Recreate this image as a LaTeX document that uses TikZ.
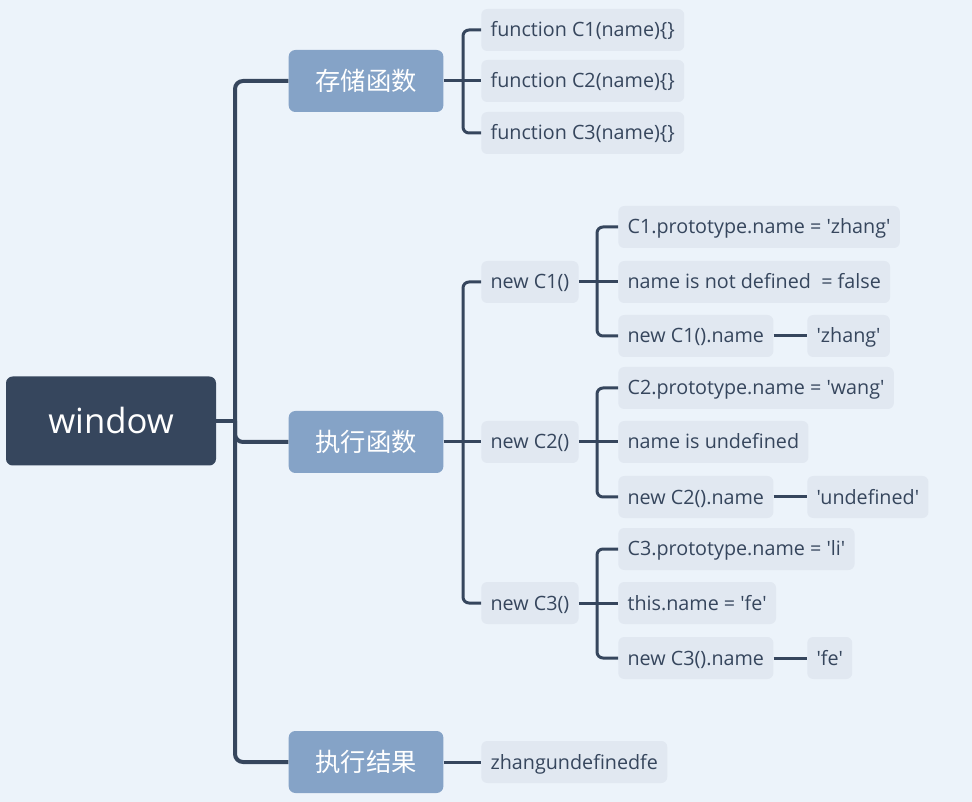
\documentclass[tikz,border=0pt]{standalone}
\usepackage{fontspec}
\setmainfont{Open Sans}[Ligatures=TeXOff]
\newfontfamily\cjk{Noto Sans CJK SC}
\usepackage{xcolor}
\usepackage{tikz}

\definecolor{bgblue}{HTML}{ECF3FA}
\definecolor{rootblue}{HTML}{36465D}
\definecolor{mainblue}{HTML}{85A3C7}
\definecolor{subgray}{HTML}{E1E8F1}

\tikzset{
  rootbox/.style={fill=rootblue, text=white, rounded corners=5pt,
    minimum width=157.5pt, minimum height=66.75pt, font=\fontsize{26}{30}\selectfont},
  mainbox/.style={fill=mainblue, text=white, rounded corners=5pt,
    minimum width=116pt, minimum height=46.5pt, font=\fontsize{19}{22}\selectfont\cjk},
  subbox/.style={fill=subgray, text=rootblue, rounded corners=4.5pt, anchor=west,
    inner xsep=7pt, minimum height=31.5pt, text height=12pt, text depth=1.5pt,
    font=\fontsize{14.8}{17}\selectfont},
  trunk/.style={draw=rootblue, line width=3pt, rounded corners=6pt},
  twig/.style={draw=rootblue, line width=2.25pt, rounded corners=4.5pt},
}

\begin{document}
\begin{tikzpicture}[x=0.75pt, y=-0.75pt]
        \fill[bgblue] (0,0) rectangle (972,802);
        \useasboundingbox (0,0) rectangle (972,802);

        \node[rootbox] (window) at (111,421) {window};
        \node[mainbox] (store) at (366,81) {存储函数};
        \node[mainbox] (run) at (366,442) {执行函数};
        \node[mainbox] (result) at (366,762) {执行结果};

        % 存储函数
        \node[subbox] (f1) at (481,30) {function C1(name)\{\}};
        \node[subbox] (f2) at (481,81) {function C2(name)\{\}};
        \node[subbox] (f3) at (481,133) {function C3(name)\{\}};

        % 执行函数
        \node[subbox] (c1) at (481,282) {new C1()};
        \node[subbox] (c2) at (481,442) {new C2()};
        \node[subbox] (c3) at (481,603) {new C3()};

        \node[subbox] (p1) at (618,227) {C1.prototype.name = 'zhang'};
        \node[subbox] (n1) at (618,282) {name is not defined \ = false};
        \node[subbox] (r1) at (618,336) {new C1().name};
        \node[subbox] (v1) at (807,336) {'zhang'};

        \node[subbox] (p2) at (618,388) {C2.prototype.name = 'wang'};
        \node[subbox] (n2) at (618,442) {name is undefined};
        \node[subbox] (r2) at (618,497) {new C2().name};
        \node[subbox] (v2) at (807,497) {'undefined'};

        \node[subbox] (p3) at (618,549) {C3.prototype.name = 'li'};
        \node[subbox] (n3) at (618,603) {this.name = 'fe'};
        \node[subbox] (r3) at (618,658) {new C3().name};
        \node[subbox] (v3) at (807,658) {'fe'};

        % 执行结果
        \node[subbox] (z) at (481,762) {zhangundefinedfe};

        \coordinate (trunkfork) at (235,421);
        \coordinate (storefork) at (463,81);
        \coordinate (runfork) at (463,442);
        \coordinate (c1fork) at (597,282);
        \coordinate (c2fork) at (597,442);
        \coordinate (c3fork) at (597,603);

        \draw[trunk] (window.east) -- (trunkfork);
        \draw[trunk] (trunkfork) |- (store.west);
        \draw[trunk] (trunkfork) |- (run.west);
        \draw[trunk] (trunkfork) |- (result.west);

        \draw[twig] (store.east) -- (storefork);
        \draw[twig] (storefork) |- (f1.west);
        \draw[twig] (storefork) -- (f2.west);
        \draw[twig] (storefork) |- (f3.west);

        \draw[twig] (run.east) -- (runfork);
        \draw[twig] (runfork) |- (c1.west);
        \draw[twig] (runfork) -- (c2.west);
        \draw[twig] (runfork) |- (c3.west);

        \draw[twig] (c1.east) -- (c1fork);
        \draw[twig] (c1fork) |- (p1.west);
        \draw[twig] (c1fork) -- (n1.west);
        \draw[twig] (c1fork) |- (r1.west);
        \draw[twig] (r1.east) -- (v1.west);

        \draw[twig] (c2.east) -- (c2fork);
        \draw[twig] (c2fork) |- (p2.west);
        \draw[twig] (c2fork) -- (n2.west);
        \draw[twig] (c2fork) |- (r2.west);
        \draw[twig] (r2.east) -- (v2.west);

        \draw[twig] (c3.east) -- (c3fork);
        \draw[twig] (c3fork) |- (p3.west);
        \draw[twig] (c3fork) -- (n3.west);
        \draw[twig] (c3fork) |- (r3.west);
        \draw[twig] (r3.east) -- (v3.west);

        \draw[twig] (result.east) -- (z.west);
    \end{tikzpicture}
\end{document}
